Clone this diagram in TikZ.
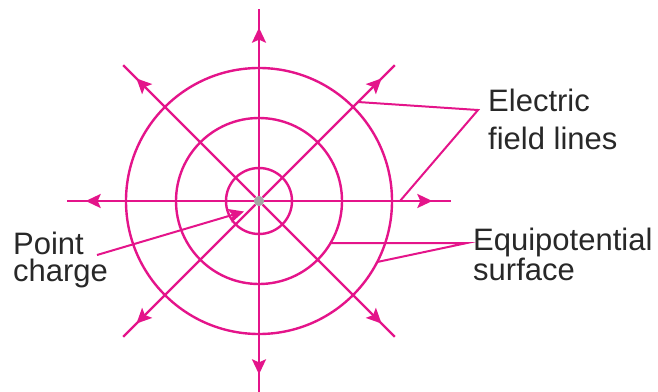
\documentclass[tikz,border=0pt]{standalone}
\usepackage{fontspec}
\setmainfont{Liberation Sans}
\usepackage{xcolor}
\usetikzlibrary{arrows.meta, positioning, calc, decorations.markings}
\definecolor{fieldpink}{RGB}{228,20,138}
\definecolor{labelgray}{RGB}{40,40,40}

\begin{document}
\begin{tikzpicture}[
  x=1pt, y=-1pt,
  field/.style={fieldpink, line width=2.4pt},
  leader/.style={fieldpink, line width=2pt},
  tip/.style={-{Stealth[length=15pt, width=14pt, inset=3pt]}},
  midarrow/.style={postaction={decorate}, decoration={markings,
    mark=at position 0.9 with {\arrow{Stealth[length=15pt, width=14pt, inset=3pt]}}}},
  charge/.style={circle, fill=black!35, inner sep=0pt, minimum size=10pt},
  lbl/.style={font=\fontsize{31}{27}\selectfont, text=labelgray, align=left, inner sep=0pt}
]
  \useasboundingbox (0,0) rectangle (658,391);
  \coordinate (q) at (259,201);
  \node[charge] (pc) at (q) {};
  % equipotential surfaces
  \foreach \r in {33,83,133}
    \draw[field] (q) circle[radius=\r];
  % field lines
  \foreach \a in {0,45,...,315}
    \draw[field, midarrow] (pc) -- ++(\a:192);
  \node[charge] at (q) {};

  % labels (base = last line)
  \node[lbl, anchor=base west] (efl) at (488,149) {Electric\\[11pt]field lines};
  \node[lbl, anchor=base west] (eqs) at (473,280) {Equipotential\\surface};
  \node[lbl, anchor=base west] (pch) at (13,281.7) {Point\\charge};

  \coordinate (efv) at (478,110);
  \coordinate (eqv) at (467,243);
  \coordinate (pcs) at (97,255);
  \coordinate (fl1) at ($(q)+(-45:140)$);
  \coordinate (fl2) at ($(q)+(0:141)$);
  \coordinate (eq1) at ($(q)+(30.4:83)$);
  \coordinate (eq2) at ($(q)+(27.3:133)$);
  \coordinate (pct) at (244,211.5);

  \draw[leader] (fl1) -- (efv) -- (fl2);
  \draw[leader] (eq1) -- (eqv) -- (eq2);
  \draw[leader, tip] (pcs) -- (pct);
\end{tikzpicture}
\end{document}
